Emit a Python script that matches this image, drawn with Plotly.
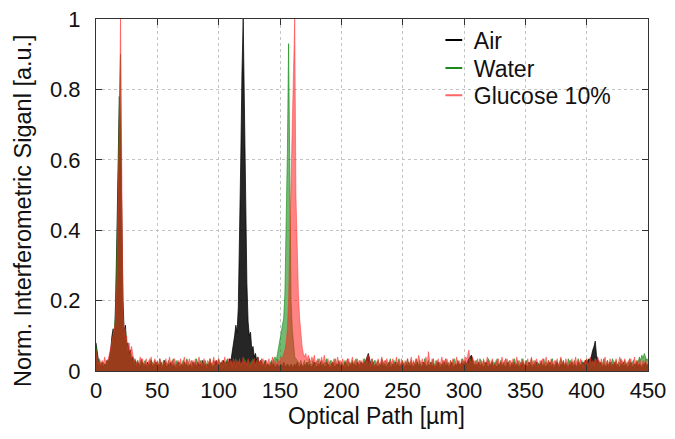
import plotly.graph_objects as go

# Optical path samples [µm], 1 µm spacing, 0..450
optical_path = list(range(0, 451))

# Normalised interferometric signal, Air
air = [
    .08, .05, .03, .02, .015, .025, .01, .02, .015, .03,      # 0
    .025, .04, .06, .1, .12, .09, .2, .38, .6, .78,           # 10
    .7, .45, .2, .11, .13, .07, .08, .05, .06, .03,           # 20
    .04, .02, .03, .015, .025, .02, .01, .03, .02, .015,      # 30
    .02, .01, .025, .015, .02, .03, .01, .02, .015, .025,     # 40
    .01, .02, .015, .025, .01, .02, .03, .015, .01, .02,      # 50
    .015, .025, .01, .02, .015, .01, .02, .025, .01, .015,    # 60
    .02, .01, .025, .015, .02, .01, .015, .02, .01, .025,     # 70
    .015, .02, .01, .025, .015, .02, .01, .03, .015, .02,     # 80
    .01, .02, .015, .025, .02, .01, .015, .02, .03, .015,     # 90
    .02, .015, .025, .02, .03, .02, .025, .03, .02, .035,     # 100
    .03, .05, .08, .1, .13, .11, .18, .35, .6, .85,           # 110
    1.0, .75, .45, .25, .14, .1, .11, .06, .07, .04,          # 120
    .05, .03, .04, .02, .03, .025, .015, .02, .03, .01,       # 130
    .02, .015, .01, .025, .015, .02, .01, .015, .02, .01,     # 140
    .015, .02, .01, .025, .015, .01, .02, .015, .01, .02,     # 150
    .01, .015, .02, .01, .025, .015, .01, .02, .015, .01,     # 160
    .02, .015, .025, .01, .02, .015, .01, .02, .025, .015,    # 170
    .01, .02, .015, .025, .01, .02, .015, .01, .025, .02,     # 180
    .015, .01, .02, .025, .015, .01, .02, .015, .025, .01,    # 190
    .02, .015, .01, .025, .02, .015, .01, .02, .015, .025,    # 200
    .015, .02, .01, .025, .02, .015, .025, .02, .02, .025,    # 210
    .03, .04, .05, .035, .02, .015, .025, .01, .02, .015,     # 220
    .01, .02, .015, .025, .01, .02, .015, .01, .02, .025,     # 230
    .015, .01, .02, .015, .025, .01, .02, .015, .01, .02,     # 240
    .025, .015, .01, .02, .015, .025, .01, .02, .015, .01,    # 250
    .02, .015, .025, .01, .02, .015, .01, .025, .02, .015,    # 260
    .01, .02, .015, .025, .01, .02, .015, .01, .02, .025,     # 270
    .015, .01, .02, .015, .025, .01, .02, .015, .01, .02,     # 280
    .025, .015, .01, .02, .015, .025, .02, .015, .025, .02,   # 290
    .02, .025, .02, .03, .035, .04, .045, .035, .02, .015,    # 300
    .02, .015, .025, .01, .02, .015, .01, .02, .025, .015,    # 310
    .01, .02, .015, .025, .01, .02, .015, .01, .02, .015,     # 320
    .025, .01, .02, .015, .01, .02, .025, .015, .01, .02,     # 330
    .015, .025, .01, .02, .015, .01, .02, .015, .025, .01,    # 340
    .02, .015, .01, .025, .02, .015, .01, .02, .015, .025,    # 350
    .01, .02, .015, .025, .01, .02, .015, .01, .02, .015,     # 360
    .025, .01, .02, .015, .01, .02, .025, .015, .01, .02,     # 370
    .015, .025, .01, .02, .015, .01, .02, .015, .025, .01,    # 380
    .02, .015, .01, .025, .02, .015, .02, .025, .02, .03,     # 390
    .025, .03, .035, .03, .05, .06, .07, .085, .045, .03,     # 400
    .02, .025, .015, .01, .02, .015, .01, .02, .015, .025,    # 410
    .01, .02, .015, .025, .01, .02, .015, .01, .02, .015,     # 420
    .025, .01, .02, .015, .01, .02, .025, .015, .01, .02,     # 430
    .015, .025, .01, .02, .015, .01, .02, .015, .025, .01,    # 440
    .02,                                                       # 450
]

# Normalised interferometric signal, Water
water = [
    .07, .04, .02, .03, .015, .02, .025, .01, .02, .03,       # 0
    .02, .035, .05, .08, .1, .12, .16, .3, .5, .75,           # 10
    .9, .4, .15, .1, .12, .08, .06, .04, .05, .03,            # 20
    .02, .035, .015, .025, .03, .01, .02, .035, .015, .025,   # 30
    .03, .015, .02, .01, .035, .02, .025, .015, .03, .01,     # 40
    .025, .015, .035, .02, .01, .03, .02, .025, .015, .03,    # 50
    .02, .01, .025, .035, .015, .02, .03, .01, .025, .02,     # 60
    .015, .03, .02, .01, .035, .025, .015, .02, .03, .01,     # 70
    .025, .02, .035, .015, .01, .03, .02, .025, .015, .03,    # 80
    .02, .01, .025, .035, .02, .015, .03, .02, .01, .025,     # 90
    .035, .015, .02, .03, .01, .025, .02, .035, .015, .02,    # 100
    .03, .01, .025, .02, .035, .015, .02, .03, .01, .025,     # 110
    .02, .035, .015, .02, .03, .01, .025, .02, .035, .015,    # 120
    .02, .03, .01, .025, .02, .035, .015, .02, .03, .01,      # 130
    .02, .015, .025, .03, .02, .035, .04, .03, .05, .07,      # 140
    .08, .1, .12, .15, .22, .4, .62, .93, .42, .2,            # 150
    .12, .07, .04, .035, .03, .025, .02, .03, .015, .02,      # 160
    .03, .01, .025, .02, .035, .015, .02, .03, .01, .025,     # 170
    .02, .035, .015, .02, .03, .01, .025, .02, .035, .015,    # 180
    .02, .03, .01, .025, .02, .035, .015, .02, .03, .01,      # 190
    .025, .02, .015, .03, .01, .035, .02, .025, .015, .03,    # 200
    .01, .025, .035, .02, .015, .03, .02, .01, .025, .035,    # 210
    .02, .03, .015, .025, .01, .035, .02, .03, .015, .025,    # 220
    .03, .02, .01, .035, .025, .015, .03, .02, .01, .025,     # 230
    .035, .015, .02, .03, .01, .025, .02, .035, .015, .02,    # 240
    .03, .01, .025, .02, .035, .015, .02, .03, .01, .025,     # 250
    .02, .035, .015, .02, .03, .01, .025, .02, .035, .015,    # 260
    .02, .03, .01, .025, .02, .035, .015, .02, .03, .01,      # 270
    .025, .02, .015, .03, .01, .035, .02, .025, .015, .03,    # 280
    .01, .025, .035, .02, .015, .03, .02, .01, .025, .035,    # 290
    .02, .03, .015, .025, .01, .035, .02, .03, .015, .025,    # 300
    .03, .02, .01, .035, .025, .015, .03, .02, .01, .025,     # 310
    .035, .015, .02, .03, .01, .025, .02, .035, .015, .02,    # 320
    .03, .01, .025, .02, .035, .015, .02, .03, .01, .025,     # 330
    .02, .035, .015, .02, .03, .01, .025, .02, .035, .015,    # 340
    .02, .03, .01, .025, .02, .035, .015, .02, .03, .01,      # 350
    .025, .02, .015, .03, .01, .035, .02, .025, .015, .03,    # 360
    .01, .025, .035, .02, .015, .03, .02, .01, .025, .035,    # 370
    .02, .03, .015, .025, .01, .035, .02, .03, .015, .025,    # 380
    .03, .02, .01, .035, .025, .015, .03, .02, .01, .025,     # 390
    .035, .015, .02, .03, .01, .025, .02, .035, .015, .02,    # 400
    .03, .01, .025, .02, .035, .015, .02, .03, .01, .025,     # 410
    .02, .035, .015, .02, .03, .01, .025, .02, .035, .015,    # 420
    .02, .03, .01, .025, .02, .035, .015, .02, .03, .01,      # 430
    .02, .03, .025, .04, .03, .045, .035, .05, .04, .03,      # 440
    .035,                                                      # 450
]

# Normalised interferometric signal, Glucose 10%
glucose = [
    .06, .03, .02, .035, .015, .03, .02, .04, .025, .03,      # 0
    .035, .05, .07, .09, .11, .13, .14, .25, .45, .7,         # 10
    1.0, .42, .16, .12, .09, .1, .06, .08, .05, .07,          # 20
    .04, .025, .035, .015, .03, .02, .04, .025, .035, .015,   # 30
    .025, .035, .01, .03, .02, .04, .015, .025, .035, .02,    # 40
    .03, .015, .035, .025, .01, .03, .02, .035, .015, .025,   # 50
    .04, .02, .03, .015, .035, .025, .01, .03, .02, .035,     # 60
    .015, .025, .04, .02, .03, .015, .035, .025, .01, .03,    # 70
    .02, .035, .015, .025, .04, .02, .03, .015, .035, .025,   # 80
    .01, .03, .02, .035, .015, .025, .04, .02, .03, .015,     # 90
    .035, .025, .01, .03, .02, .04, .015, .025, .035, .02,    # 100
    .03, .015, .035, .025, .01, .03, .02, .035, .015, .025,   # 110
    .04, .02, .03, .015, .035, .025, .01, .03, .02, .035,     # 120
    .015, .025, .04, .02, .03, .015, .035, .025, .01, .03,    # 130
    .02, .035, .015, .025, .04, .02, .03, .015, .035, .025,   # 140
    .03, .04, .035, .05, .06, .08, .12, .2, .4, .55,          # 150
    .7, .85, 1.0, .5, .35, .22, .15, .1, .07, .05,            # 160
    .04, .05, .03, .045, .035, .025, .04, .03, .045, .02,     # 170
    .03, .015, .035, .025, .04, .02, .045, .03, .015, .035,   # 180
    .025, .01, .03, .02, .035, .015, .025, .04, .02, .03,     # 190
    .015, .035, .025, .01, .03, .02, .035, .015, .025, .04,   # 200
    .02, .03, .015, .035, .025, .01, .03, .02, .035, .015,    # 210
    .025, .04, .045, .03, .015, .035, .025, .01, .03, .02,    # 220
    .035, .015, .025, .04, .02, .03, .015, .035, .025, .01,   # 230
    .03, .02, .035, .015, .025, .04, .02, .03, .015, .035,    # 240
    .025, .01, .03, .02, .035, .015, .025, .04, .02, .03,     # 250
    .015, .035, .025, .045, .03, .02, .035, .015, .025, .04,  # 260
    .02, .055, .03, .015, .035, .025, .01, .03, .02, .035,    # 270
    .015, .025, .04, .02, .03, .015, .035, .025, .01, .03,    # 280
    .02, .035, .015, .025, .04, .02, .03, .015, .035, .025,   # 290
    .03, .04, .035, .045, .06, .03, .025, .04, .02, .03,      # 300
    .015, .035, .025, .01, .03, .02, .035, .015, .025, .04,   # 310
    .02, .03, .015, .035, .025, .01, .03, .02, .035, .015,    # 320
    .025, .04, .02, .03, .015, .035, .025, .01, .03, .02,     # 330
    .035, .015, .025, .04, .02, .03, .015, .035, .025, .01,   # 340
    .03, .02, .035, .015, .025, .04, .02, .03, .015, .035,    # 350
    .025, .01, .03, .02, .035, .015, .025, .04, .02, .03,     # 360
    .015, .035, .025, .01, .03, .02, .035, .015, .025, .04,   # 370
    .02, .03, .015, .035, .025, .01, .03, .02, .035, .015,    # 380
    .025, .04, .02, .03, .015, .035, .025, .01, .03, .02,     # 390
    .035, .015, .025, .04, .02, .03, .015, .035, .025, .04,   # 400
    .03, .02, .035, .015, .025, .04, .02, .03, .015, .035,    # 410
    .025, .01, .03, .02, .035, .015, .025, .04, .02, .03,     # 420
    .015, .035, .025, .01, .03, .02, .035, .015, .025, .04,   # 430
    .02, .03, .015, .035, .025, .01, .03, .02, .035, .015,    # 440
    .02,                                                       # 450
]

series_names = ["Air", "Water", "Glucose 10%"]
series_values = [air, water, glucose]
line_colors = ["rgba(0,0,0,0.9)", "rgba(20,140,20,0.8)", "rgba(255,40,40,0.6)"]
fill_colors = ["rgba(0,0,0,0.85)", "rgba(20,140,20,0.6)", "rgba(255,30,30,0.55)"]
legend_colors = ["#000000", "#1a8a1a", "#ff6666"]
legend_ids = ["legend", "legend2", "legend3"]

x_ticks = [0, 50, 100, 150, 200, 250, 300, 350, 400, 450]
y_ticks = [0, 0.2, 0.4, 0.6, 0.8, 1]
y_tick_text = ["0", "0.2", "0.4", "0.6", "0.8", "1"]

fig = go.Figure()
for name, vals, lc, fc in zip(series_names, series_values, line_colors, fill_colors):
    fig.add_trace(go.Scatter(
        x=optical_path[:len(vals)], y=vals, mode="lines", name=name,
        line=dict(color=lc, width=0.8), fill="tozeroy", fillcolor=fc,
        showlegend=False, hoverinfo="skip",
    ))

# legend entries (short line samples), one legend box per entry
for name, c, lid in zip(series_names, legend_colors, legend_ids):
    fig.add_trace(go.Scatter(
        x=[None], y=[None], mode="markers", name=name, legend=lid,
        marker=dict(symbol="line-ew", size=16, color=c, line=dict(color=c, width=3)),
        showlegend=True,
    ))

axis_common = dict(
    showgrid=True, gridcolor="#c4c4c4", griddash="dot", gridwidth=1,
    showline=True, linecolor="#333333", linewidth=1, mirror="ticks",
    ticks="inside", ticklen=6, tickcolor="#333333", zeroline=False,
    tickfont=dict(size=22, color="#111111"), automargin=False,
)

legend_common = dict(xanchor="left", yanchor="middle", bgcolor="rgba(0,0,0,0)",
                     font=dict(size=23, color="#111111"), itemsizing="constant")

fig.update_layout(
    width=675, height=439,
    margin=dict(l=96, r=27, t=19, b=68, autoexpand=False),
    plot_bgcolor="white", paper_bgcolor="white",
    font=dict(family="Liberation Sans, Arial, sans-serif", size=22, color="#111111"),
    legend=dict(x=0.612, y=0.94, **legend_common),
    legend2=dict(x=0.612, y=0.861, **legend_common),
    legend3=dict(x=0.612, y=0.783, **legend_common),
    annotations=[
        dict(text="Norm. Interferometric Siganl [a.u.]", xref="paper", yref="paper",
             x=-0.132, y=0.455, xanchor="center", yanchor="middle", textangle=-90,
             showarrow=False, font=dict(size=23.5, color="#111111")),
        dict(text="Optical Path [µm]", xref="paper", yref="paper",
             x=0.509, y=-0.127, xanchor="center", yanchor="middle",
             showarrow=False, font=dict(size=23, color="#111111")),
    ],
)
fig.update_xaxes(range=[0, 450], tickvals=x_ticks, ticklabelstandoff=0, **axis_common)
fig.update_yaxes(range=[0, 1], tickvals=y_ticks, ticktext=y_tick_text,
                 ticklabelstandoff=10, **axis_common)

fig.write_html("out.html")
